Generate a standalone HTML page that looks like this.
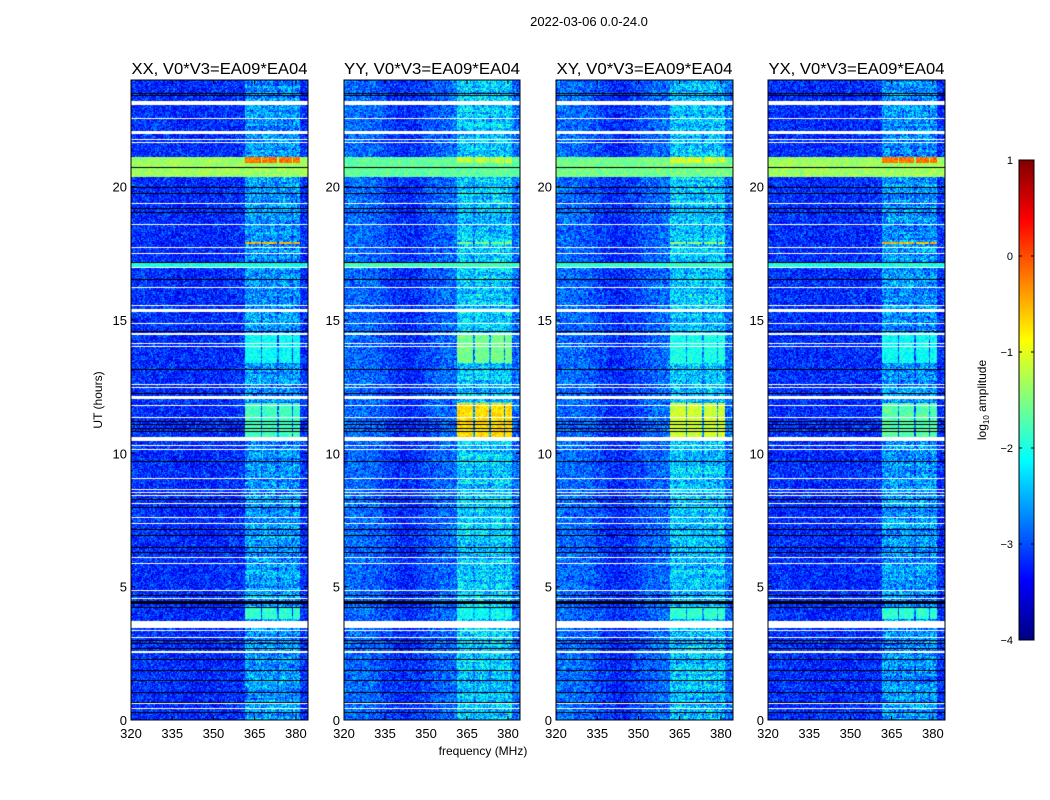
<!DOCTYPE html>
<html><head><meta charset="utf-8">
<style>
html,body{margin:0;padding:0;background:#fff;}
#wrap{position:relative;width:1050px;height:800px;overflow:hidden;font-family:"Liberation Sans","DejaVu Sans",sans-serif;color:#000;}
canvas{position:absolute;}
svg{position:absolute;left:0;top:0;}
</style></head>
<body>
<div id="wrap">
<canvas id="c0" width="177" height="640" style="left:131px;top:80px"></canvas>
<canvas id="c1" width="176" height="640" style="left:344px;top:80px"></canvas>
<canvas id="c2" width="177" height="640" style="left:556px;top:80px"></canvas>
<canvas id="c3" width="177" height="640" style="left:768px;top:80px"></canvas>
<svg id="ov" width="1050" height="800"></svg>
</div>
<script>
// ---- data ----
const panelTitles = ["XX, V0*V3=EA09*EA04","YY, V0*V3=EA09*EA04","XY, V0*V3=EA09*EA04","YX, V0*V3=EA09*EA04"];
const xTicks = [320,335,350,365,380];
const yTicks = [0,5,10,15,20];
const cbTicks = [1,0,-1,-2,-3,-4];
const subBandStart = [361.5,367.8,373.8,379.0];
const subBandEnd   = [367.2,373.2,378.4,381.6];
const bgLevel   = [-3.15,-2.85,-2.85,-3.15];
const bgDip     = [0.05,0.35,0.35,0.05];
const bandLevel = [-2.65,-2.35,-2.4,-2.65];
const whiteStart = [23.05,22.52,21.95,21.64,21.73,19.33,18.55,17.7,17.47,16.95,16.2,15.51,15.33,14.84,14.42,14.1,13.97,12.55,12.45,12.02,11.77,11.32,10.47,10.27,10.11,9.03,8.61,8.52,8.4,8.09,7.58,7.36,6.09,5.84,4.84,4.53,3.42,3.34,3.09,2.53,0.6,0.41];
const whiteEnd   = [23.2,22.56,22.07,21.68,21.77,19.37,18.59,17.74,17.51,16.99,16.24,15.55,15.43,14.88,14.5,14.14,14.01,12.59,12.49,12.15,11.81,11.36,10.62,10.31,10.15,9.07,8.65,8.56,8.44,8.13,7.62,7.4,6.13,5.88,4.88,4.57,3.7,3.38,3.13,2.6,0.64,0.45];
const blackLines = [23.5,23.42,20.72,20.0,19.75,19.21,19.04,17.19,16.55,14.6,13.17,12.25,11.21,11.09,10.96,10.85,9.7,8.3,7.97,7.18,6.93,6.49,6.3,4.68,4.47,4.42,4.37,4.24,3.0,2.87,2.71,2.27,1.87,1.5,1.05,0.69,0.29];
const eventStart = [20.35,20.75,10.62,13.4,3.8,17.0,17.85,20.9];
const eventEnd   = [20.72,21.1,11.9,14.5,4.25,17.12,17.93,21.1];
const eventScope = ["all","all","band","band","band","all","band","band"];
const levelXX = [-1.35,-1.35,-1.8,-2.1,-1.9,-2.0,-0.5,-0.2];
const levelYY = [-1.65,-1.65,-0.7,-1.55,-2.1,-1.8,-1.5,-1.2];
const levelXY = [-1.55,-1.55,-1.1,-2.0,-1.9,-1.9,-1.4,-1.1];
const levelYX = [-1.35,-1.35,-1.7,-2.1,-1.9,-2.0,-0.5,-0.2];
const eventLevels = [levelXX,levelYY,levelXY,levelYX];

// ---- geometry ----
const panelLeft = [131,344,556,768];
const panelW = [177,176,177,177];
const top0 = 80, H = 640;
const fMin = 320, fMax = 384.4, hMax = 24;
function xScale(p,f){return panelLeft[p] + (f-fMin)/(fMax-fMin)*panelW[p];}
function yScale(h){return top0 + (1-h/hMax)*H;}
function cbScale(v){return 160 + (1-v)/5*480;}
function jet(t){t=Math.max(0,Math.min(1,t));const c=x=>Math.round(255*Math.max(0,Math.min(1,x)));
 return [c(1.5-Math.abs(4*t-3)),c(1.5-Math.abs(4*t-2)),c(1.5-Math.abs(4*t-1))];}
function hash(a,b,c){let h=(a*374761393+b*668265263+c*2147483647)|0;h=(h^(h>>>13))*1274126177|0;h=h^(h>>>16);return ((h>>>0)%10000)/10000;}
function inBand(f){for(let i=0;i<subBandStart.length;i++){if(f>=subBandStart[i]&&f<=subBandEnd[i])return true;}return false;}

for(let p=0;p<4;p++){
 const cv=document.getElementById('c'+p), ctx=cv.getContext('2d');
 const w=panelW[p], img=ctx.createImageData(w,H);
 for(let y=0;y<H;y++){
  const h=hMax*(1-(y+0.5)/H);
  const rowVar=(hash(0,y>>1,p+31)-0.5)*0.35;
  for(let x=0;x<w;x++){
   const f=fMin+(x+0.5)/w*(fMax-fMin);
   const n=(hash(x,y,p)*0.6+hash(x>>1,y>>1,p+7)*0.4)-0.5;
   const dip=bgDip[p]*Math.exp(-Math.pow((f-343)/9,2));
   let v=bgLevel[p]-dip+n*1.3;
   const band=inBand(f);
   if(f>=subBandStart[0]&&f<=subBandEnd[3]) v=(band?bandLevel[p]:bandLevel[p]-0.25)+rowVar+n*1.6;
   for(let e=0;e<eventStart.length;e++){
    if(h>=eventStart[e]&&h<=eventEnd[e]){
     if(eventScope[e]==="all"||band){v=Math.max(v,eventLevels[p][e]+n*0.7);}
    }
   }
   const col=jet((v+4)/5),k=(y*w+x)*4;
   img.data[k]=col[0];img.data[k+1]=col[1];img.data[k+2]=col[2];img.data[k+3]=255;
  }
 }
 ctx.putImageData(img,0,0);
 ctx.fillStyle='#fff';
 for(let i=0;i<whiteStart.length;i++){
  const y1=yScale(whiteEnd[i])-top0,y2=yScale(whiteStart[i])-top0;
  ctx.fillRect(0,Math.round(y1),w,Math.max(1,Math.round(y2-y1)));
 }
 ctx.fillStyle='#000';
 for(let i=0;i<blackLines.length;i++){ctx.fillRect(0,Math.round(yScale(blackLines[i])-top0),w,1);}
}

// ---- overlay ----
const NS='http://www.w3.org/2000/svg', ov=document.getElementById('ov');
function mk(tag,attrs,text){const e=document.createElementNS(NS,tag);for(const k in attrs)e.setAttribute(k,attrs[k]);if(text!==undefined)e.textContent=text;ov.appendChild(e);return e;}
let t=mk('text',{x:589,y:26,'font-size':13,'text-anchor':'middle'},'2022-03-06 0.0-24.0');


for(let p=0;p<4;p++){
 const L=panelLeft[p],R=L+panelW[p];
 const fr=mk('rect',{x:L,y:top0,width:panelW[p],height:H,fill:'none',stroke:'#000','stroke-width':1});
 
 
 const ti=mk('text',{x:(L+R)/2,y:74,'font-size':16,'text-anchor':'middle',textLength:176,lengthAdjust:'spacingAndGlyphs'},panelTitles[p]);
 
 
 for(const f of xTicks){
  const x=xScale(p,f);
  mk('line',{x1:x,x2:x,y1:top0+H,y2:top0+H-4,stroke:'#000'});
  mk('line',{x1:x,x2:x,y1:top0,y2:top0+4,stroke:'#000'});
  const lb=mk('text',{x:x,y:738,'font-size':13,'text-anchor':'middle'},String(f));
  
  
 }
 for(const h of yTicks){
  const y=yScale(h);
  mk('line',{x1:L,x2:L+4,y1:y,y2:y,stroke:'#000'});
  mk('line',{x1:R,x2:R-4,y1:y,y2:y,stroke:'#000'});
  const lb=mk('text',{x:L-4,y:y+5,'font-size':13,'text-anchor':'end'},String(h));
  
  
 }
}
t=mk('text',{x:483,y:755,'font-size':12,'text-anchor':'middle'},'frequency (MHz)');


t=mk('text',{x:0,y:0,'font-size':12,'text-anchor':'middle',transform:'translate(102,400) rotate(-90)'},'UT (hours)');


// colorbar
const defs=mk('defs',{});
const g=document.createElementNS(NS,'linearGradient');g.setAttribute('id','jet');g.setAttribute('x1','0');g.setAttribute('y1','1');g.setAttribute('x2','0');g.setAttribute('y2','0');
for(let i=0;i<=16;i++){const c=jet(i/16);const s=document.createElementNS(NS,'stop');s.setAttribute('offset',i/16);s.setAttribute('stop-color','rgb('+c.join(',')+')');g.appendChild(s);}
defs.appendChild(g);
t=mk('rect',{x:1019,y:160,width:15,height:480,fill:'url(#jet)',stroke:'#000','stroke-width':1});


for(const v of cbTicks){
 const y=cbScale(v);
 mk('line',{x1:1019,x2:1022,y1:y,y2:y,stroke:'#000'});
 mk('line',{x1:1034,x2:1031,y1:y,y2:y,stroke:'#000'});
 const lb=mk('text',{x:1013,y:y+4,'font-size':11,'text-anchor':'end'},v<0?'\u2212'+(-v):String(v));
 
 
}
t=mk('text',{x:0,y:0,'font-size':12,'text-anchor':'middle',transform:'translate(986,400) rotate(-90)'});


t.innerHTML='log<tspan font-size="8" dy="3">10</tspan><tspan dy="-3"> amplitude</tspan>';
</script>
</body></html>
